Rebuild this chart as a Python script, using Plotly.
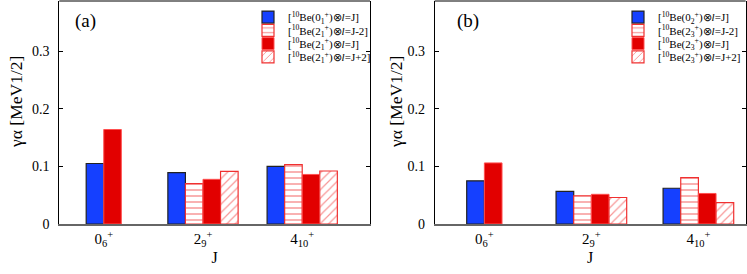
import plotly.graph_objects as go

categories = ["0<sub>6</sub><sup>+</sup>", "2<sub>9</sub><sup>+</sup>", "4<sub>10</sub><sup>+</sup>"]

# Panel (a)
a_l_eq_J_0 = [0.105, 0.089, 0.100]      # [10Be(0+_1) x l=J]
a_l_J_minus2 = [None, 0.070, 0.103]     # [10Be(2+_1) x l=J-2]
a_l_eq_J_2 = [0.164, 0.0775, 0.086]     # [10Be(2+_1) x l=J]
a_l_J_plus2 = [None, 0.0915, 0.092]     # [10Be(2+_1) x l=J+2]

# Panel (b)
b_l_eq_J_0 = [0.075, 0.0567, 0.062]     # [10Be(0+_2) x l=J]
b_l_J_minus2 = [None, 0.049, 0.0805]    # [10Be(2+_3) x l=J-2]
b_l_eq_J_2 = [0.106, 0.0515, 0.053]     # [10Be(2+_3) x l=J]
b_l_J_plus2 = [None, 0.046, 0.037]      # [10Be(2+_3) x l=J+2]

names_a = [
    "[<sup>10</sup>Be(0<sub>1</sub><sup>+</sup>)⊗<i>l</i>=J]",
    "[<sup>10</sup>Be(2<sub>1</sub><sup>+</sup>)⊗<i>l</i>=J-2]",
    "[<sup>10</sup>Be(2<sub>1</sub><sup>+</sup>)⊗<i>l</i>=J]",
    "[<sup>10</sup>Be(2<sub>1</sub><sup>+</sup>)⊗<i>l</i>=J+2]",
]
names_b = [
    "[<sup>10</sup>Be(0<sub>2</sub><sup>+</sup>)⊗<i>l</i>=J]",
    "[<sup>10</sup>Be(2<sub>3</sub><sup>+</sup>)⊗<i>l</i>=J-2]",
    "[<sup>10</sup>Be(2<sub>3</sub><sup>+</sup>)⊗<i>l</i>=J]",
    "[<sup>10</sup>Be(2<sub>3</sub><sup>+</sup>)⊗<i>l</i>=J+2]",
]

FONT = "Liberation Serif"
BLUE = "#1540ff"
RED = "#e20000"
PRED = "#f03030"

fig = go.Figure()


def add_panel(series, names, xa, ya, legends, w):
    s0, sm2, s2, sp2 = series
    has4 = [v is not None for v in sm2]
    off_blue = [-2 * w if h else -w for h in has4]
    common = dict(x=categories, xaxis=xa, yaxis=ya, width=w)
    fig.add_trace(go.Bar(y=s0, name=names[0], offset=off_blue, legend=legends[0],
                         marker=dict(color=BLUE, line=dict(color="#222222", width=1.2)), **common))
    fig.add_trace(go.Bar(y=sm2, name=names[1], offset=-w, legend=legends[1],
                         marker=dict(color="white", line=dict(color=PRED, width=1.2),
                                     pattern=dict(shape="-", fgcolor=PRED, bgcolor="white", size=6, solidity=0.25)),
                         **common))
    fig.add_trace(go.Bar(y=s2, name=names[2], offset=0, legend=legends[2],
                         marker=dict(color=RED, line=dict(color="#ff5050", width=1)), **common))
    fig.add_trace(go.Bar(y=sp2, name=names[3], offset=w, legend=legends[3],
                         marker=dict(color="white", line=dict(color=PRED, width=1.2),
                                     pattern=dict(shape="/", fgcolor=PRED, bgcolor="white", size=6, solidity=0.2)),
                         **common))


legs_a = ["legend", "legend2", "legend3", "legend4"]
legs_b = ["legend5", "legend6", "legend7", "legend8"]
add_panel((a_l_eq_J_0, a_l_J_minus2, a_l_eq_J_2, a_l_J_plus2), names_a, "x", "y", legs_a, 0.177)
add_panel((b_l_eq_J_0, b_l_J_minus2, b_l_eq_J_2, b_l_J_plus2), names_b, "x2", "y2", legs_b, 0.165)

W, H = 747, 274
dom_a = [59.3 / W, 370 / W]
dom_b = [434.7 / W, 745.7 / W]

xcommon = dict(type="category", showline=True, linecolor="#666666", linewidth=2,
               ticks="", tickfont=dict(family=FONT, size=15, color="black"),
               title=dict(text="J", font=dict(family=FONT, size=16, color="black"), standoff=2),
               showgrid=False, zeroline=False, fixedrange=True)
ycommon = dict(range=[0, 0.387], tickvals=[0, 0.1, 0.2, 0.3], ticktext=["0", "0.1", "0.2", "0.3"],
               showline=True, linecolor="black", linewidth=1, mirror="ticks",
               ticks="inside", ticklen=4, tickcolor="black",
               tickfont=dict(family=FONT, size=14, color="black"), ticklabelstandoff=6,
               showgrid=False, zeroline=False)

legcommon = dict(xanchor="left", yanchor="middle", bgcolor="rgba(0,0,0,0)",
                 font=dict(family=FONT, size=11, color="black"), itemwidth=30, tracegroupgap=0)

row_y = [19.7, 36.0, 52.3, 68.6]
leg_layout = {}
for i, name in enumerate(legs_a):
    leg_layout[name] = dict(x=248 / W, y=1 - row_y[i] / H, **legcommon)
for i, name in enumerate(legs_b):
    leg_layout[name] = dict(x=618 / W, y=1 - row_y[i] / H, **legcommon)

fig.update_layout(
    width=W, height=H,
    margin=dict(l=0, r=0, t=1, b=50),
    plot_bgcolor="white", paper_bgcolor="white",
    barmode="overlay",
    showlegend=True,
    xaxis=dict(domain=dom_a, range=[-0.448, 2.683], anchor="y", **xcommon),
    yaxis=dict(domain=[0, 1], anchor="x", **ycommon),
    xaxis2=dict(domain=dom_b, range=[-0.464, 2.442], anchor="y2", **xcommon),
    yaxis2=dict(domain=[0, 1], anchor="x2", **ycommon),
    **leg_layout,
)

for xr, yr in (("x", "y"), ("x2", "y2")):
    fig.add_shape(type="line", xref=f"{xr} domain", yref=f"{yr} domain", x0=0, x1=1, y0=1, y1=1,
                  line=dict(color="black", width=1))

fig.add_annotation(text="(a)", xref="paper", yref="paper", x=85 / W, y=1 - 25 / H, showarrow=False,
                   xanchor="center", yanchor="middle", font=dict(family=FONT, size=19, color="black"))
fig.add_annotation(text="(b)", xref="paper", yref="paper", x=468 / W, y=1 - 25 / H, showarrow=False,
                   xanchor="center", yanchor="middle", font=dict(family=FONT, size=19, color="black"))
for xc in (16, 396):
    fig.add_annotation(text="γα [MeV1/2]", xref="paper", yref="paper", x=xc / W, y=1 - 124 / H,
                       textangle=-90, showarrow=False, xanchor="center", yanchor="middle",
                       font=dict(family=FONT, size=17.5, color="black"))

fig.write_html("out.html", config={"displayModeBar": False},
               post_script="document.body.style.margin='0';document.body.style.overflow='hidden';")
